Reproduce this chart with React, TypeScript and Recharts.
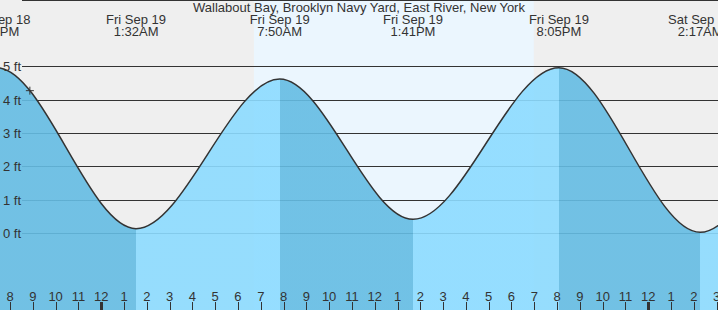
import {
  ComposedChart,
  Area,
  Scatter,
  XAxis,
  YAxis,
  CartesianGrid,
  ReferenceArea,
  ReferenceLine,
} from "recharts";

const FONT = '"Liberation Sans", Arial, sans-serif';
const INK = "#333333";

// hours counted from midnight, Fri Sep 19 (first and last fall outside the view)
const EXTREME_HOURS = [-10.8, -4.58, 1.53, 7.83, 13.68, 20.08, 26.28, 32.5, 38.7];
const EXTREME_FEET = [0.2, 4.97, 0.14, 4.63, 0.42, 4.97, 0.03, 4.62, 0.1];
const EXTREME_DAYS = [
  "Thu Sep 18", "Thu Sep 18", "Fri Sep 19", "Fri Sep 19", "Fri Sep 19",
  "Fri Sep 19", "Sat Sep 20", "Sat Sep 20", "Sat Sep 20",
];
const EXTREME_TIMES = [
  "1:12PM", "7:25PM", "1:32AM", "7:50AM", "1:41PM", "8:05PM", "2:17AM", "8:30AM", "2:42PM",
];

const HOUR_TICKS = [
  -4, -3, -2, -1, 0, 1, 2, 3, 4, 5, 6, 7, 8, 9, 10, 11, 12, 13, 14, 15, 16,
  17, 18, 19, 20, 21, 22, 23, 24, 25, 26, 27,
];
const HOUR_LABELS = [
  "8", "9", "10", "11", "12", "1", "2", "3", "4", "5", "6", "7", "8", "9", "10", "11",
  "12", "1", "2", "3", "4", "5", "6", "7", "8", "9", "10", "11", "12", "1", "2", "3",
];
const MIDNIGHTS = [0, 24];
const FEET_TICKS = [0, 1, 2, 3, 4, 5];

const SUNRISE = 6.7;
const SUNSET = 18.98;
const NOW = [{ t: -3.13, ft: 4.28 }];

const X_DOMAIN: [number, number] = [-4.44, 27.06];
const Y_DOMAIN: [number, number] = [-2.3, 7.0];

const RISING = "#8cdbff";
const FALLING = "#64bce3";

const tideData = EXTREME_HOURS.map((t, i) => ({ t, ft: EXTREME_FEET[i] }));

// hard colour stops: falling stretches darker, rising stretches lighter
const span = EXTREME_HOURS[EXTREME_HOURS.length - 1] - EXTREME_HOURS[0];
const stops = EXTREME_HOURS.slice(0, -1).flatMap((t, i) => {
  const color = EXTREME_FEET[i + 1] < EXTREME_FEET[i] ? FALLING : RISING;
  return [
    { offset: (t - EXTREME_HOURS[0]) / span, color },
    { offset: (EXTREME_HOURS[i + 1] - EXTREME_HOURS[0]) / span, color },
  ];
});

// only label turns whose text can reach the view
const labelled = EXTREME_HOURS.map((t, i) => i).filter(
  (i) => EXTREME_HOURS[i] > X_DOMAIN[0] - 2 && EXTREME_HOURS[i] < X_DOMAIN[1] + 2
);

function HourTick(props: any) {
  const { x, y, payload } = props;
  const i = HOUR_TICKS.indexOf(payload.value);
  const px = Math.round(x) + 0.5;
  const thick = MIDNIGHTS.includes(payload.value);
  return (
    <g>
      <text x={x} y={y} textAnchor="middle" fill={INK} fontSize={13} fontFamily={FONT}>
        {HOUR_LABELS[i]}
      </text>
      <line x1={px} x2={px} y1={y + 1.5} y2={y + 10} stroke={INK} strokeWidth={thick ? 3 : 1} />
    </g>
  );
}

function NowMark(props: any) {
  const { cx, cy } = props;
  return (
    <g stroke={INK} strokeWidth={1}>
      <line x1={cx - 4} x2={cx + 4} y1={cy} y2={cy} />
      <line x1={cx} x2={cx} y1={cy - 4} y2={cy + 4} />
    </g>
  );
}

function extremeLabel(i: number) {
  return (props: any) => {
    const vb = props.viewBox;
    return (
      <text x={vb.x} y={vb.y + 24.3} textAnchor="middle" fill={INK} fontSize={13} fontFamily={FONT}>
        <tspan x={vb.x}>{EXTREME_DAYS[i]}</tspan>
        <tspan x={vb.x} dy={12}>{EXTREME_TIMES[i]}</tspan>
      </text>
    );
  };
}

export default function App() {
  return (
    <div
      style={{
        position: "absolute",
        left: 0,
        top: 0,
        width: 718,
        height: 310,
        background: "#efefef",
        fontFamily: FONT,
        overflow: "hidden",
      }}
    >
      <ComposedChart width={718} height={310} data={tideData} margin={{ top: 0, right: 0, bottom: 0, left: 0 }}>
        <defs>
          <linearGradient id="tideFill" x1="0" y1="0" x2="1" y2="0">
            {stops.map((s, i) => (
              <stop key={i} offset={s.offset} stopColor={s.color} />
            ))}
          </linearGradient>
        </defs>
        <ReferenceArea x1={SUNRISE} x2={SUNSET} fill="#ebf6fe" fillOpacity={1} stroke="none" zIndex={-200} />
        <CartesianGrid
          vertical={false}
          stroke={INK}
          strokeDasharray=""
          x={22}
          width={696}
          shapeRendering="crispEdges"
        />
        <XAxis
          dataKey="t"
          type="number"
          domain={X_DOMAIN}
          allowDataOverflow
          ticks={HOUR_TICKS}
          interval={0}
          orientation="bottom"
          mirror
          axisLine={false}
          tickLine={false}
          tickSize={8}
          tickMargin={1.5}
          tick={<HourTick />}
        />
        <YAxis
          type="number"
          domain={Y_DOMAIN}
          allowDataOverflow
          ticks={FEET_TICKS}
          interval={0}
          mirror
          axisLine={false}
          tickLine={false}
          tickSize={3}
          tickMargin={0}
          tickFormatter={(v) => v + " ft"}
          tick={{ fill: INK, fontSize: 13, fontFamily: FONT }}
        />
        <Area
          dataKey="ft"
          type="monotoneX"
          baseValue="dataMin"
          fill="url(#tideFill)"
          fillOpacity={0.9}
          stroke={INK}
          strokeWidth={1.5}
          dot={false}
          activeDot={false}
          isAnimationActive={false}
        />
        <Scatter data={NOW} dataKey="ft" shape={<NowMark />} isAnimationActive={false} />
        {labelled.map((i) => (
          <ReferenceLine
            key={i}
            x={EXTREME_HOURS[i]}
            stroke="none"
            ifOverflow="visible"
            label={extremeLabel(i)}
          />
        ))}
      </ComposedChart>
      <div
        style={{
          position: "absolute",
          left: 0,
          top: 0,
          width: 718,
          textAlign: "center",
          fontSize: 13,
          color: INK,
        }}
      >
        Wallabout Bay, Brooklyn Navy Yard, East River, New York
      </div>
    </div>
  );
}
